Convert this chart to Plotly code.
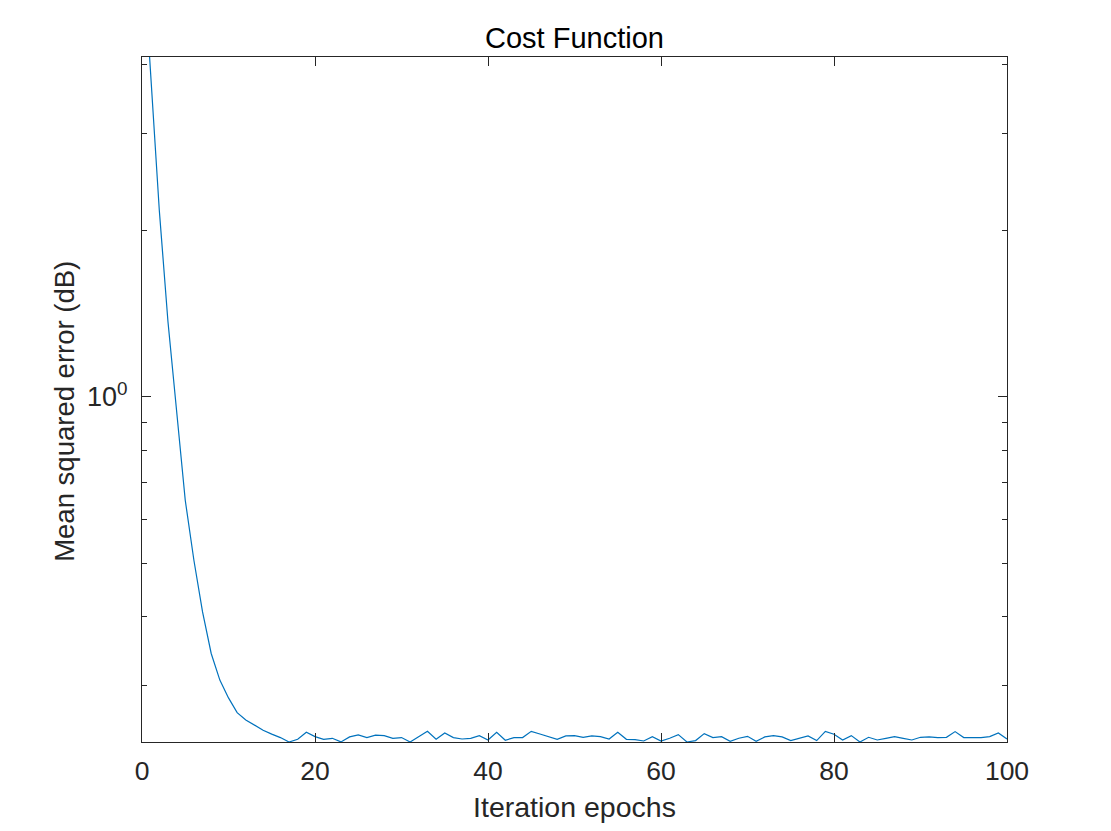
import numpy as np
import plotly.graph_objects as go

# iteration index (epochs 0..100)
epochs = list(range(0, 101))

# cost per epoch
mse_db = [
    6.8, 3.77, 2.18, 1.37, 0.93, 0.65, 0.506, 0.408, 0.343, 0.307,
    0.285, 0.268, 0.260, 0.254, 0.249, 0.245, 0.2415, 0.2371, 0.2398, 0.2469,
    0.2425, 0.2398, 0.2408, 0.2372, 0.2422, 0.2442, 0.2415, 0.2439, 0.2435, 0.2408,
    0.2415, 0.2371, 0.2425, 0.2479, 0.2398, 0.2462, 0.2415, 0.2401, 0.2408, 0.2435,
    0.2391, 0.2469, 0.2388, 0.2415, 0.2415, 0.2479, 0.2452, 0.2425, 0.2398, 0.2432,
    0.2435, 0.2418, 0.2432, 0.2425, 0.2401, 0.2469, 0.2398, 0.2395, 0.2381, 0.2425,
    0.2381, 0.2408, 0.2445, 0.2371, 0.2385, 0.2455, 0.2415, 0.2425, 0.2378, 0.2408,
    0.2428, 0.2378, 0.2422, 0.2435, 0.2422, 0.2385, 0.2408, 0.2432, 0.2385, 0.2479,
    0.2449, 0.2391, 0.2435, 0.2371, 0.2418, 0.2391, 0.2408, 0.2425, 0.2408, 0.2391,
    0.2418, 0.2422, 0.2415, 0.2418, 0.2476, 0.2415, 0.2415, 0.2415, 0.2425, 0.2462,
    0.2401,
]

x_ticks = [0, 20, 40, 60, 80, 100]
y_major = [1]
y_major_text = ["10<sup>0</sup>"]
y_minor = [0.3, 0.4, 0.5, 0.6, 0.7, 0.8, 0.9, 2, 3, 4]

y_lo, y_hi = 0.2371, 4.13
AX = "#262626"
FONT = "Liberation Sans, Arial, sans-serif"

fig = go.Figure()
fig.add_trace(
    go.Scatter(
        x=epochs,
        y=mse_db,
        mode="lines",
        line=dict(color="#0072BD", width=1.2),
        showlegend=False,
    )
)

# page body keeps its 8px margin on every side, so the figure is 16px smaller
fig.update_layout(
    width=1095,
    height=815,
    margin=dict(l=134, r=96, t=49, b=81),
    paper_bgcolor="white",
    plot_bgcolor="white",
    font=dict(family=FONT, color=AX),
    title=dict(
        text="Cost Function",
        x=0.5,
        xref="paper",
        y=1 - 30 / 815,
        yref="container",
        xanchor="center",
        yanchor="middle",
        font=dict(size=29, color="black"),
    ),
)

fig.update_xaxes(
    range=[0, 100],
    automargin=False,
    tickmode="array",
    tickvals=x_ticks,
    ticks="inside",
    ticklen=9,
    tickwidth=1,
    tickcolor=AX,
    showline=True,
    linecolor=AX,
    linewidth=1,
    mirror="ticks",
    showgrid=False,
    zeroline=False,
    tickfont=dict(size=26.5, color=AX),
    ticklabelstandoff=5,
    title=dict(text="Iteration epochs", font=dict(size=28.5, color=AX), standoff=13),
)

fig.update_yaxes(
    type="log",
    range=[np.log10(y_lo), np.log10(y_hi)],
    automargin=False,
    tickmode="array",
    tickvals=y_major,
    ticktext=y_major_text,
    ticks="inside",
    ticklen=9,
    tickwidth=1,
    tickcolor=AX,
    minor=dict(
        tickmode="array",
        tickvals=y_minor,
        ticks="inside",
        ticklen=5,
        tickwidth=1,
        tickcolor=AX,
        showgrid=False,
    ),
    showline=True,
    linecolor=AX,
    linewidth=1,
    mirror="ticks",
    showgrid=False,
    zeroline=False,
    tickfont=dict(size=27, color=AX),
    ticklabelstandoff=8,
)

# y label sits a bit below the axis middle, as in the original
fig.add_annotation(
    text="Mean squared error (dB)",
    xref="paper",
    yref="paper",
    x=-0.089,
    y=0.482,
    showarrow=False,
    textangle=-90,
    xanchor="center",
    yanchor="middle",
    font=dict(size=27.5, color=AX),
)

fig.write_html("out.html")
